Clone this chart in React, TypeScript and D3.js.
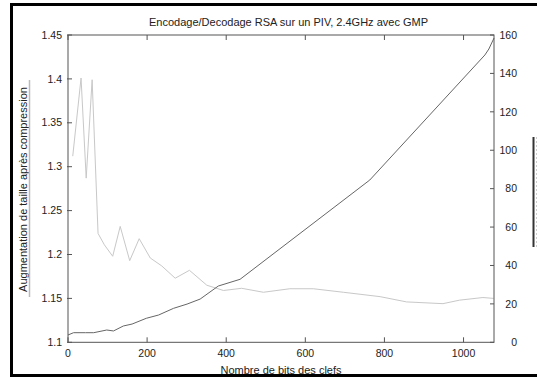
import React from "react";
import * as d3 from "d3";

const title = "Encodage/Decodage RSA sur un PIV, 2.4GHz avec GMP";
const xLabel = "Nombre de bits des clefs";
const yLabel = "Augmentation de taille après compression";

const xTicks = [0, 200, 400, 600, 800, 1000];
const yLeftTicks = [1.1, 1.15, 1.2, 1.25, 1.3, 1.35, 1.4, 1.45];
const yRightTicks = [0, 20, 40, 60, 80, 100, 120, 140, 160];

// size increase ratio (left axis)
const sizeKeys = [12, 33, 46, 61, 76, 92, 113, 132, 156, 180, 208, 237, 271, 307, 351, 393, 439, 494, 561, 620, 696, 789, 856, 948, 990, 1049, 1076];
const sizeRatio = [1.312, 1.401, 1.287, 1.399, 1.224, 1.211, 1.198, 1.232, 1.193, 1.218, 1.196, 1.187, 1.173, 1.182, 1.165, 1.159, 1.1615, 1.157, 1.161, 1.161, 1.157, 1.152, 1.146, 1.144, 1.148, 1.151, 1.15];

// time (right axis)
const timeKeys = [0, 14, 44, 65, 98, 115, 140, 162, 198, 229, 267, 301, 334, 380, 435, 763, 1054, 1064, 1077];
const timeValues = [3.8, 5.0, 5.0, 5.0, 6.4, 5.9, 8.5, 9.5, 12.5, 14.2, 17.7, 19.9, 22.5, 29.3, 32.8, 84.5, 149.6, 152.7, 158.4];

const W = 537;
const H = 378;
const L = 68;
const R = 494;
const T = 35;
const B = 342.3;
const FONT = "'Liberation Sans', Arial, Helvetica, sans-serif";

export default function App() {
  const x = d3.scaleLinear().domain([0, 1077]).range([L, R]);
  const yL = d3.scaleLinear().domain([1.1, 1.45]).range([B, T]);
  const yR = d3.scaleLinear().domain([0, 160]).range([B, T]);

  const sizeLine = d3
    .line<number>()
    .x((_, i) => x(sizeKeys[i]))
    .y((d) => yL(d));
  const timeLine = d3
    .line<number>()
    .x((_, i) => x(timeKeys[i]))
    .y((d) => yR(d));

  const axisColor = "#555";
  const textColor = "#222";

  return (
    <svg
      width={W}
      height={H}
      style={{ position: "absolute", left: 0, top: 0, background: "#fff" }}
      fontFamily={FONT}
    >
      <rect x={0} y={0} width={W} height={H} fill="#fff" />
      {/* outer frame */}
      <rect x={11.5} y={4.5} width={W + 20} height={371} fill="none" stroke="#000" strokeWidth={3} />

      {/* title */}
      <text x={288.5} y={26} textAnchor="middle" fontSize={11} fill={textColor}>
        {title}
      </text>

      {/* data lines */}
      <path d={sizeLine(sizeRatio) || ""} fill="none" stroke="#c8c8c8" strokeWidth={1} />
      <path d={timeLine(timeValues) || ""} fill="none" stroke="#666" strokeWidth={1} />

      {/* plot box */}
      <rect x={L} y={T} width={R - L} height={B - T} fill="none" stroke={axisColor} strokeWidth={1} />

      {/* x ticks */}
      {xTicks.map((t) => (
        <g key={"x" + t}>
          <line x1={x(t)} x2={x(t)} y1={B} y2={B - 5} stroke={axisColor} />
          <line x1={x(t)} x2={x(t)} y1={T} y2={T + 5} stroke={axisColor} />
          <text x={x(t)} y={357} textAnchor="middle" fontSize={10.5} fill={textColor}>
            {t}
          </text>
        </g>
      ))}

      {/* left ticks */}
      {yLeftTicks.map((t) => (
        <g key={"yl" + t}>
          <line x1={L - 1} x2={L + 4} y1={yL(t)} y2={yL(t)} stroke={axisColor} />
          <text x={62} y={yL(t)} dy="0.35em" textAnchor="end" fontSize={10.5} fill={textColor}>
            {d3.format("")(+t.toFixed(2))}
          </text>
        </g>
      ))}

      {/* right ticks */}
      {yRightTicks.map((t) => (
        <g key={"yr" + t}>
          <line x1={R - 4} x2={R} y1={yR(t)} y2={yR(t)} stroke={axisColor} />
          <text x={517} y={yR(t)} dy="0.35em" textAnchor="end" fontSize={10.5} fill={textColor}>
            {t}
          </text>
        </g>
      ))}

      {/* x label */}
      <text x={281} y={374} textAnchor="middle" fontSize={11} fill={textColor}>
        {xLabel}
      </text>

      {/* y label with line sample */}
      <text
        transform={`translate(26.5,189.5) rotate(-90)`}
        textAnchor="middle"
        fontSize={11}
        fill={textColor}
      >
        {yLabel}
      </text>
      <line x1={29.5} x2={29.5} y1={80} y2={297} stroke="#bbb" strokeWidth={1.5} />

      {/* clipped right label sample */}
      <line x1={533.5} x2={533.5} y1={137} y2={247} stroke="#333" strokeWidth={2} />
      <line x1={536.5} x2={536.5} y1={137} y2={247} stroke="#ccc" strokeWidth={1} strokeDasharray="2,2" />
    </svg>
  );
}
